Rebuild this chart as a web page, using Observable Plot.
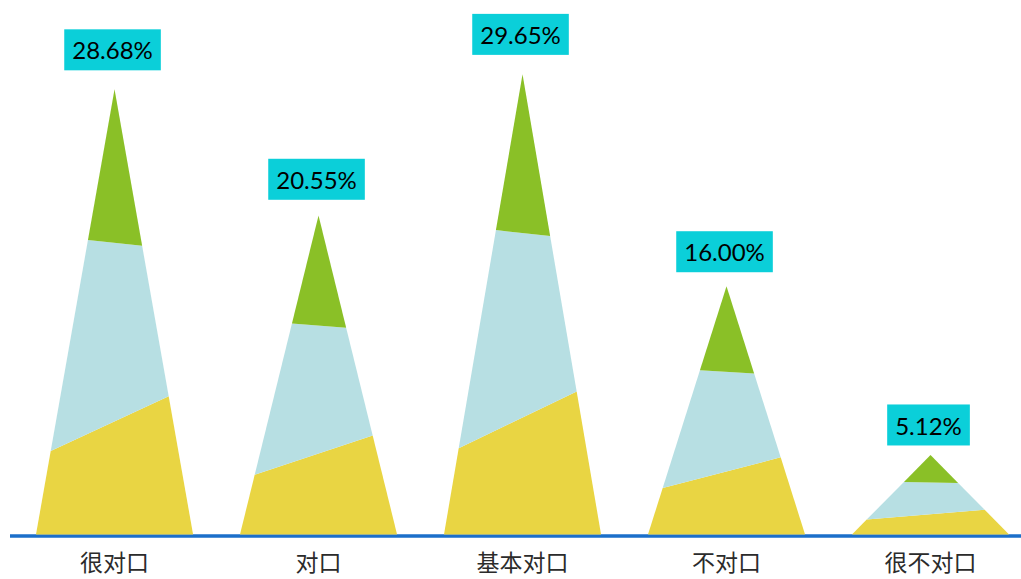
<!DOCTYPE html>
<html>
<head>
<meta charset="utf-8">
<script src="https://cdn.jsdelivr.net/npm/d3@7"></script>
<script src="https://cdn.jsdelivr.net/npm/@observablehq/plot@0.6"></script>
<style>
  html, body { margin: 0; padding: 0; background: #fff; }
  #chart svg { display: block; }
</style>
</head>
<body>
<div id="chart"></div>
<script>
// ---- data ----
const categories = ["很对口", "对口", "基本对口", "不对口", "很不对口"];
const values = [28.68, 20.55, 29.65, 16.00, 5.12];
const labels = ["28.68%", "20.55%", "29.65%", "16.00%", "5.12%"];

// ---- style constants ----
const halfWidth = 0.385;                 // triangle half base, in category steps
const yellowBand = {f: 0.254, k: 0.082}; // boundary fraction at centre, tilt
const greenBand  = {f: 0.655, k: -0.019};
const colors = {yellow: "#e9d543", blue: "#b7dfe3", green: "#8ac027", box: "#0bcfd9", base: "#1b6fca"};

// build polygons in data coordinates from the values
const polys = {yellow: [], blue: [], green: []};
values.forEach((v, i) => {
  const pt = (t, side) => ({id: i, x: i + side * halfWidth * t, y: v * (1 - t)});
  const tl = b => (1 - b.f) / (1 - b.k);
  const tr = b => (1 - b.f) / (1 + b.k);
  const Lg = pt(tl(greenBand), -1), Rg = pt(tr(greenBand), 1);
  const Ly = pt(tl(yellowBand), -1), Ry = pt(tr(yellowBand), 1);
  polys.green.push({id: i, x: i, y: v}, Rg, Lg);
  polys.blue.push(Lg, Rg, Ry, Ly);
  polys.yellow.push(Ly, Ry, pt(1, 1), pt(1, -1));
});

function labelMark(index, scales) {
  const g = d3.create("svg:g");
  const ctx = document.createElement("canvas").getContext("2d");
  ctx.font = "24px Lato";
  values.forEach((v, i) => {
    const cx = scales.x(i) - 1.5;
    const bottom = scales.y(v) - (7 + 0.4 * v);
    const h = 41;
    const w = ctx.measureText(labels[i]).width + 16;
    g.append("rect")
      .attr("x", cx - w / 2).attr("y", bottom - h)
      .attr("width", w).attr("height", h)
      .attr("fill", colors.box);
    g.append("text")
      .attr("x", cx).attr("y", bottom - h / 2 + 1)
      .attr("dy", "0.36em")
      .attr("text-anchor", "middle")
      .attr("font-family", "Lato, 'Open Sans', sans-serif")
      .attr("font-size", 24)
      .attr("fill", "#000")
      .text(labels[i]);
  });
  return g.node();
}

const chart = Plot.plot({
  width: 1021,
  height: 579,
  marginLeft: 10,
  marginRight: 0,
  marginTop: 0,
  marginBottom: 45,
  style: {fontFamily: "'Noto Sans CJK SC', sans-serif", fontSize: "23px", color: "#2b2b2b", background: "#fff"},
  x: {domain: [-0.51, 4.446], ticks: [0, 1, 2, 3, 4], tickFormat: i => categories[i], tickSize: 0, tickPadding: 20, label: null},
  y: {domain: [0, 34.4], axis: null},
  marks: [
    Plot.ruleY([0], {stroke: colors.base, strokeWidth: 3.5, dy: 1.5}),
    Plot.line(polys.yellow, {x: "x", y: "y", z: "id", fill: colors.yellow, stroke: "none"}),
    Plot.line(polys.blue, {x: "x", y: "y", z: "id", fill: colors.blue, stroke: "none"}),
    Plot.line(polys.green, {x: "x", y: "y", z: "id", fill: colors.green, stroke: "none"}),
    labelMark
  ]
});
document.getElementById("chart").appendChild(chart);
</script>
</body>
</html>
